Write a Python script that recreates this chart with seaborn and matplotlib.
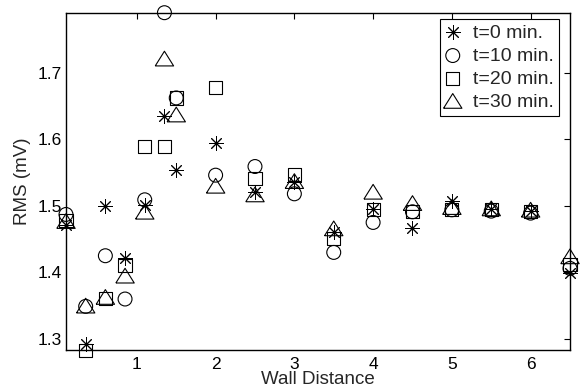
import matplotlib
matplotlib.use("Agg")
import matplotlib.pyplot as plt
import seaborn as sns
import numpy as np
import pandas as pd

# Data
wall_distance = [0.1, 0.35, 0.6, 0.85, 1.1, 1.35, 1.5, 2.0, 2.5, 3.0, 3.5, 4.0, 4.5, 5.0, 5.5, 6.0, 6.5]
rms_t0 = [1.471, 1.293, 1.500, 1.421, 1.501, 1.635, 1.554, 1.595, 1.520, 1.536, 1.461, 1.495, 1.466, 1.507, 1.495, 1.492, 1.399]
rms_t10 = [1.487, 1.349, 1.425, 1.360, 1.509, 1.790, 1.662, 1.546, 1.559, 1.518, 1.430, 1.475, 1.491, 1.494, 1.492, 1.489, 1.406]
rms_t20 = [1.478, 1.283, 1.361, 1.410, 1.589, 1.589, 1.662, 1.678, 1.541, 1.547, 1.451, 1.494, 1.491, 1.495, 1.495, 1.492, 1.412]
rms_t30 = [1.476, 1.349, 1.362, 1.394, 1.490, 1.720, 1.636, 1.529, 1.516, 1.536, 1.465, 1.520, 1.503, 1.497, 1.495, 1.493, 1.423]
series_labels = ["t=0 min.", "t=10 min.", "t=20 min.", "t=30 min."]
x_ticks = [1, 2, 3, 4, 5, 6]
y_ticks = [1.3, 1.4, 1.5, 1.6, 1.7]

sns.set_style("white")
plt.rcParams['font.family'] = ['Liberation Sans', 'DejaVu Sans']

fig = plt.figure(figsize=(5.84, 3.92), dpi=100)
ax = fig.add_axes([0.113, 0.1064, 0.863, 0.8612])

tri = [(-1.0, -0.72), (1.0, -0.72), (0.0, 0.88), (-1.0, -0.72)]
markers = [(8, 2, 0), "o", "s", tri]
sizes = [95, 100, 90, 175]
series = [rms_t0, rms_t10, rms_t20, rms_t30]

for vals, lab, mk, sz in zip(series, series_labels, markers, sizes):
    df = pd.DataFrame({"x": wall_distance, "y": vals})
    if mk == (8, 2, 0):
        sns.scatterplot(data=df, x="x", y="y", ax=ax, marker=mk, s=sz,
                        color="black", linewidth=0.7, label=lab, zorder=3,
                        clip_on=False)
    else:
        sns.scatterplot(data=df, x="x", y="y", ax=ax, marker=mk, s=sz,
                        facecolor="none", edgecolor="black", linewidth=0.8,
                        label=lab, zorder=3, clip_on=False)

ax.set_xlim(0.1, 6.5)
ax.set_ylim(1.283, 1.79)
ax.set_xticks(x_ticks)
ax.set_yticks(y_ticks)
ax.set_xticklabels([str(t) for t in x_ticks])
ax.set_yticklabels([f"{t:.1f}" for t in y_ticks])
ax.tick_params(direction="in", length=4, width=0.8, top=True, right=True,
               labelsize=12.5, colors="black")
ax.tick_params(axis="x", pad=5)
ax.tick_params(axis="y", pad=3)
for sp in ax.spines.values():
    sp.set_color("black")
    sp.set_linewidth(1.0)
ax.set_xlabel("Wall Distance", fontsize=13.5, labelpad=-1)
ax.set_ylabel("RMS (mV)", fontsize=13.5, labelpad=5)

leg = ax.legend(loc="upper right", bbox_to_anchor=(0.978, 0.981),
                borderaxespad=0, fontsize=14, frameon=True, fancybox=False,
                borderpad=0.25, handletextpad=0.65, labelspacing=0.28,
                handlelength=0.8, markerscale=1.0)
leg.get_frame().set_edgecolor("black")
leg.get_frame().set_linewidth(0.8)
leg.get_frame().set_alpha(1)

fig.savefig("out.png", dpi=100)
